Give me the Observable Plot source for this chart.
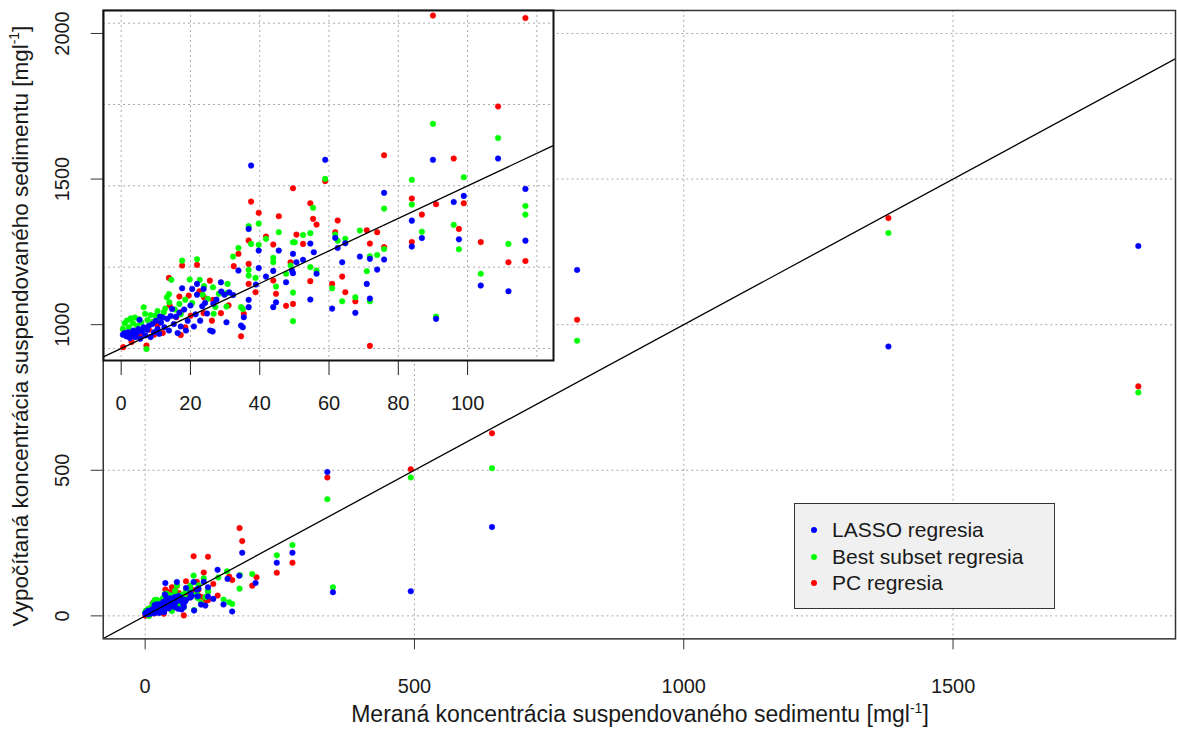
<!DOCTYPE html>
<html>
<head>
<meta charset="utf-8">
<script src="https://cdn.jsdelivr.net/npm/d3@7"></script>
<script src="https://cdn.jsdelivr.net/npm/@observablehq/plot@0.6"></script>
<style>
  body { margin: 0; background: #fff; overflow: hidden; font-family: "Liberation Sans", Arial, sans-serif; color: #1a1a1a; }
  #wrap { position: relative; width: 1177px; height: 729px; overflow: hidden; }
  #wrap > svg, #wrap > div { position: absolute; }
  .legend { left: 794px; top: 503px; width: 259px; height: 104px; background: #f0f0f0; border: 1.5px solid #333; }
  .legend .row { position: absolute; left: 37px; font-size: 21px; line-height: 26px; white-space: nowrap; }
  .legend .dot { position: absolute; left: -21px; top: 10px; width: 6px; height: 6px; border-radius: 50%; }
  .title { font-size: 23px; white-space: nowrap; transform-origin: center center; }
</style>
</head>
<body>
<div id="wrap"></div>
<script>
const seriesNames = ["LASSO regresia", "Best subset regresia", "PC regresia"];
const seriesColors = ["#0000ff", "#00ff00", "#ff0000"];

const lasso = [
  [0.5,8.5],[1.0,9.5],[1.5,7.5],[2.0,10.0],[2.5,6.5],[3.0,8.5],[3.5,11.0],[4.0,7.0],[4.5,9.5],[5.0,12.0],
  [5.3,17.6],[5.5,6.0],[6.0,10.5],[6.5,13.0],[7.0,8.0],[7.5,11.5],[8.0,14.0],[8.5,7.0],[9.0,15.0],[9.5,10.0],
  [10.0,17.0],[10.5,12.0],[11.0,9.0],[11.2,19.6],[11.5,16.0],[12.0,19.0],[12.5,13.0],[13.3,18.2],[13.8,11.0],[14.3,20.0],
  [14.7,24.3],[15.2,15.0],[15.8,19.5],[16.3,9.5],[16.8,22.0],[17.2,13.5],[17.6,37.0],[18.2,24.0],[18.7,11.0],[19.2,17.0],
  [20.0,26.4],[20.5,36.6],[21.0,13.5],[21.5,21.0],[21.9,33.1],[21.9,39.7],[22.8,17.1],[23.4,26.0],[23.8,36.6],[24.2,28.0],
  [24.8,21.5],[25.7,11.0],[26.4,10.5],[26.6,27.5],[27.5,30.0],[28.8,40.7],[28.9,35.0],[29.8,33.0],[30.4,16.1],[31.2,34.5],
  [32.3,32.9],[33.85,47.9],[35.4,19.2],[34.6,14.1],[35.1,13.0],[36.8,73.5],[37.5,112.5],[36.8,29.9],[36.8,25.4],[38.9,39.3],
  [39.7,60.2],[39.7,49.5],[41.8,44.2],[43.9,47.7],[44.7,28.4],[43.9,25.4],[45.5,60.2],[47.6,40.7],[49.3,47.9],[49.6,58.2],
  [49.6,46.3],[50.6,53.0],[52.5,54.5],[54.6,64.5],[54.6,30.1],[55.6,59.2],[56.4,45.9],[58.9,116.0],[60.9,24.5],[61.8,68.0],
  [62.5,61.8],[63.8,53.0],[64.7,64.7],[67.6,21.9],[68.9,56.5],[70.9,39.7],[71.8,55.1],[71.8,30.7],[73.9,48.5],[75.9,95.7],
  [75.9,54.7],[83.9,78.6],[83.9,62.7],[86.8,67.9],[90.0,116.0],[90.9,18.2],[96.0,90.1],[97.5,67.1],[98.9,93.8],[103.8,38.7],
  [108.8,116.8],[111.8,35.2],[116.7,98.1],[116.7,66.3],
  [126.5,58.2],[134.5,158],[145.5,39],[153,127],[161.5,15],[174.7,138],[180.2,216.8],[205,113],[244.4,182.5],[273.5,216.8],
  [338.3,494],[348.7,81],[493.2,84.5],[644,305],[802,1188],[1380,925],[1844,1270]
];

const bestSubset = [
  [0.5,12.0],[1.0,15.5],[1.7,17.2],[2.2,13.0],[2.8,18.5],[3.4,15.5],[4.0,19.0],[4.6,14.0],[5.2,18.0],[5.8,16.0],
  [6.5,25.3],[6.9,21.3],[7.3,-0.3],[7.6,17.5],[8.5,20.5],[9.2,16.5],[9.9,20.2],[10.5,23.0],[11.2,18.0],[12.3,22.3],
  [12.7,24.5],[13.2,31.5],[13.8,33.4],[13.9,28.4],[14.5,42.2],[15.5,24.0],[16.8,27.4],[17.2,21.0],[17.6,54.0],[18.5,30.0],
  [19.8,42.4],[20.5,28.0],[21.9,54.9],[22.7,42.2],[23.5,33.0],[23.9,38.3],[25.0,30.5],[26.5,37.6],[26.7,21.3],[27.2,25.5],
  [28.2,33.6],[30.4,34.0],[30.4,25.8],[30.7,39.7],
  [32.3,56.5],[33.85,61.8],[34.6,25.4],[35.1,24.3],[36.8,75.2],[37.5,64.3],[36.8,48.3],[36.8,44.8],[38.8,43.4],[39.7,76.8],
  [39.7,63.7],[41.8,67.4],[43.9,55.7],[43.9,53.0],[44.7,38.1],[45.5,71.5],[47.6,45.9],[48.9,51.0],[49.6,65.3],[50.1,65.3],
  [49.6,34.4],[49.6,16.8],[52.5,69.8],[54.6,70.9],[54.6,50.0],[55.4,86.5],[56.4,47.9],[58.9,104.3],[60.9,37.0],[61.8,70.0],
  [62.5,66.3],[63.8,29.0],[64.7,67.4],[67.6,31.5],[68.9,72.5],[70.9,47.5],[71.8,56.7],[71.8,29.0],[73.9,57.5],[75.9,86.0],
  [75.9,61.2],[83.9,103.7],[83.9,88.5],[86.8,71.8],[90.0,138.1],[90.9,19.6],[96.0,76.0],[97.5,61.0],[98.9,105.3],[103.8,45.9],
  [108.8,129.4],[111.8,64.3],[116.7,87.6],[116.7,82.3],
  [135.8,132],[145.7,55.8],[152,153],[156,47],[161.7,41.1],[175.3,93.5],[175.9,140],[198.8,143.8],[244.4,207.8],[273.5,243.2],
  [338.3,400.7],[348.7,98.2],[493.2,475],[644,507],[802,945],[1380,1315],[1844,767]
];

const pcRegression = [
  [0.6,0.8],[2.0,9.0],[3.0,4.0],[4.5,10.5],[5.5,7.5],[7.3,1.8],[8.0,11.5],[9.5,8.5],[10.5,14.5],[12.0,9.5],
  [13.8,43.4],[14.0,26.4],[15.9,19.2],[16.8,31.9],[17.2,22.3],[17.2,8.3],[17.6,51.0],[18.5,13.0],[19.5,32.5],[20.1,20.2],
  [21.9,51.4],[22.6,35.2],[23.8,21.7],[23.9,31.5],[25.6,41.7],[26.2,17.1],[26.5,29.9],[28.8,21.7],[31.0,26.5],
  [32.5,50.6],[33.85,58.2],[35.4,21.3],[34.6,7.5],[36.8,66.4],[37.5,90.3],[36.8,52.0],[36.8,39.7],[38.8,34.6],[39.7,83.4],
  [41.8,68.8],[43.9,63.9],[43.9,41.8],[44.7,33.6],[45.5,81.3],[47.6,26.2],[48.9,53.0],[49.6,98.5],[49.6,27.4],[50.6,70.0],
  [52.5,64.3],[54.6,89.3],[54.6,41.4],[55.4,79.7],[56.4,76.2],[58.9,102.9],[60.9,39.7],[61.8,71.5],[62.5,78.7],[63.8,44.2],
  [64.7,34.6],[67.6,29.0],[70.9,72.7],[71.8,64.5],[71.8,1.6],[73.9,71.5],[75.9,118.8],[75.9,62.3],
  [83.9,92.2],[83.9,65.5],[86.8,82.3],[90.0,204.7],[90.9,88.7],[96.0,116.8],[97.5,73.5],[98.9,89.3],[103.8,65.4],[108.8,148.8],
  [111.8,53.0],[116.7,203.2],[116.7,53.8],
  [126.5,109.6],[134.6,69.5],[156,134.6],[161.7,123],[175.3,301.4],[180.2,256.8],[198.8,103.8],[206.8,132.4],[244.4,148.3],
  [273.5,182.5],[338.3,475],[493.2,503.4],[644,627],[802,1017],[1380,1366],[1844,788]
];

// ticks and reference line (1:1)
const mainXTicks = [0, 500, 1000, 1500];
const mainYTicks = [0, 500, 1000, 1500, 2000];
const insetXTicks = [0, 20, 40, 60, 80, 100];
const insetXGrid = [0, 20, 40, 60, 80, 100, 120];
const insetYGrid = [0, 50, 100, 150, 200];
const oneToOne = [-100, 2200];

// ---- build rows (draw order: PC, Best subset, LASSO on top) ----
const seriesData = [lasso, bestSubset, pcRegression];
const rows = [2, 1, 0].flatMap(i => seriesData[i].map(([m, p]) => ({m, p, color: seriesColors[i]})));

const FONT = '"Liberation Sans", Arial, sans-serif';
const gridOpts = {stroke: "#aaa", strokeOpacity: 1, strokeWidth: 1, strokeDasharray: "2,3"};

const mainPlot = Plot.plot({
  width: 1180, height: 729,
  marginLeft: 103, marginRight: 2, marginTop: 10, marginBottom: 89,
  x: {domain: [-77.8, 1913], label: null},
  y: {domain: [-79, 2079], label: null},
  color: {type: "identity"},
  style: {fontFamily: FONT, fontSize: "20px", color: "#1a1a1a", background: "transparent", overflow: "visible"},
  marks: [
    Plot.gridX(mainXTicks, gridOpts),
    Plot.gridY(mainYTicks, gridOpts),
    Plot.dot(rows, {x: "m", y: "p", r: 2.8, fill: "color", stroke: "color", strokeWidth: 0.5, clip: true}),
    Plot.line(oneToOne, {x: d => d, y: d => d, stroke: "#000", strokeWidth: 1.3, clip: true}),
    Plot.axisX(mainXTicks, {tickSize: 11, tickPadding: 29, tickFormat: d => String(d), stroke: "#333", label: null}),
    Plot.axisY(mainYTicks, {tickSize: 12, tickPadding: 22, tickRotate: -90, tickFormat: d => String(d), stroke: "#333", label: null}),
    Plot.frame({stroke: "#333", strokeWidth: 1.5})
  ]
});

const insetPlot = Plot.plot({
  width: 556, height: 420,
  marginLeft: 103, marginRight: 3, marginTop: 10, marginBottom: 60,
  x: {domain: [-5.1, 124.8], label: null},
  y: {domain: [-7.4, 207.8], label: null, axis: null},
  color: {type: "identity"},
  style: {fontFamily: FONT, fontSize: "20px", color: "#1a1a1a", background: "transparent", overflow: "visible"},
  marks: [
    Plot.frame({fill: "#fff", stroke: null}),
    Plot.gridX(insetXGrid, gridOpts),
    Plot.gridY(insetYGrid, gridOpts),
    Plot.dot(rows, {x: "m", y: "p", r: 2.8, fill: "color", stroke: "color", strokeWidth: 0.5, clip: true}),
    Plot.line(oneToOne, {x: d => d, y: d => d, stroke: "#000", strokeWidth: 1.3, clip: true}),
    Plot.axisX(insetXTicks, {tickSize: 15, tickPadding: 20, tickFormat: d => String(d), stroke: "#222", label: null}),
    Plot.frame({stroke: "#111", strokeWidth: 2})
  ]
});

const wrap = document.getElementById("wrap");
mainPlot.style.left = "0px"; mainPlot.style.top = "0px";
insetPlot.style.left = "0px"; insetPlot.style.top = "0px";
insetPlot.style.pointerEvents = "none";
wrap.appendChild(mainPlot);
wrap.appendChild(insetPlot);

// axis titles
const xTitle = document.createElement("div");
xTitle.className = "title";
xTitle.innerHTML = "Meraná koncentrácia suspendovaného sedimentu [mgl<sup style='font-size:14px'>-1</sup>]";
xTitle.style.left = "640px"; xTitle.style.top = "714px";
xTitle.style.transform = "translate(-50%, -50%)";
wrap.appendChild(xTitle);

const yTitle = document.createElement("div");
yTitle.className = "title";
yTitle.style.fontSize = "22.5px";
yTitle.innerHTML = "Vypočítaná koncentrácia suspendovaného sedimentu [mgl<sup style='font-size:14px'>-1</sup>]";
yTitle.style.left = "20px"; yTitle.style.top = "326px";
yTitle.style.transform = "translate(-50%, -50%) rotate(-90deg)";
wrap.appendChild(yTitle);

// legend
const legend = document.createElement("div");
legend.className = "legend";
seriesNames.forEach((name, i) => {
  const row = document.createElement("div");
  row.className = "row";
  row.style.top = (13 + i * 26.5) + "px";
  row.innerHTML = `<span class="dot" style="background:${seriesColors[i]}"></span>${name}`;
  legend.appendChild(row);
});
wrap.appendChild(legend);
</script>
</body>
</html>
